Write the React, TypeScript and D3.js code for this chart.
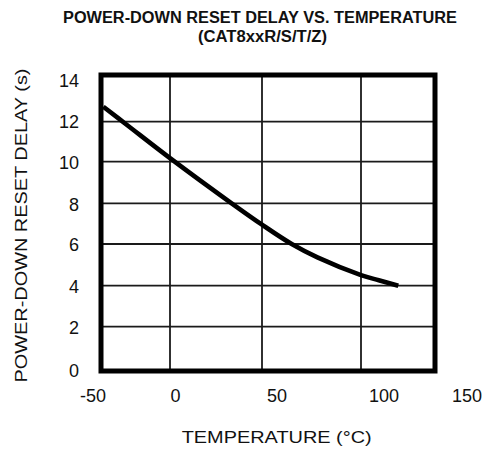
import React from "react";
import * as d3 from "d3";

// ---- data ----
const xTicks = [-50, 0, 50, 100, 150];
const yTicks = [0, 2, 4, 6, 8, 10, 12, 14];
const temps = [-48.3, -31.4, 0, 33.5, 50, 65, 78, 100, 112, 125.2];
const delays = [12.64, 11.85, 10.18, 8.0, 6.95, 6.0, 5.36, 4.51, 4.26, 4.0];
const titleLines = ["POWER-DOWN RESET DELAY VS. TEMPERATURE", "(CAT8xxR/S/T/Z)"];
const xTitle = "TEMPERATURE (°C)";
const yTitle = "POWER-DOWN RESET DELAY (s)";

// ---- scales (the scanned grid is not evenly spaced, so piecewise) ----
const x = d3.scaleLinear().domain(xTicks).range([101, 170, 262, 361, 435]);
const xLabel = d3.scaleLinear().domain(xTicks).range([93, 175.5, 277, 384, 467]);
const y = d3.scaleLinear().domain(yTicks).range([371, 326.7, 285.7, 244, 203.3, 161.7, 121.7, 75]);
const yLabel = d3.scaleLinear().domain(yTicks).range([371, 328, 286.7, 245, 205, 163.3, 121.7, 81]);

const pts: [number, number][] = temps.map((t, i) => [x(t), y(delays[i])]);
const lineGen = d3.line().curve(d3.curveCatmullRom.alpha(0.5));

export default function App() {
  const left = x(-50), right = x(150), top = y(14), bottom = y(0);
  return (
    <svg width={484} height={452} style={{ position: "absolute", left: 0, top: 0, background: "#fff" }}>
      <rect x={0} y={0} width={484} height={452} fill="#fff" />
      {/* title */}
      <g fontFamily="'Liberation Sans Narrow', 'Arial Narrow', 'Liberation Sans', Arial, sans-serif" fontWeight="bold" fontSize={16} fill="#111" textAnchor="middle">
        <text x={260} y={23.3} textLength={394} lengthAdjust="spacingAndGlyphs">{titleLines[0]}</text>
        <text x={262.5} y={41.5} textLength={129} lengthAdjust="spacingAndGlyphs">{titleLines[1]}</text>
      </g>
      {/* grid */}
      <g stroke="#1a1a1a" strokeWidth={1.8}>
        {xTicks.slice(1, -1).map((t) => (
          <line key={"vx" + t} x1={x(t)} x2={x(t)} y1={top} y2={bottom} />
        ))}
        {yTicks.slice(1, -1).map((t) => (
          <line key={"hy" + t} x1={left} x2={right} y1={y(t)} y2={y(t)} />
        ))}
      </g>
      {/* curve */}
      <path d={lineGen(pts) || ""} fill="none" stroke="#000" strokeWidth={4.6} strokeLinecap="butt" strokeLinejoin="round" />
      {/* frame */}
      <rect x={left} y={top} width={right - left} height={bottom - top} fill="none" stroke="#000" strokeWidth={5} />
      {/* tick labels */}
      <g fontFamily="'Liberation Sans', Arial, sans-serif" fontSize={18} fill="#111">
        {xTicks.map((t) => (
          <text key={"xl" + t} x={xLabel(t)} y={402} textAnchor="middle">{t}</text>
        ))}
        {yTicks.map((t) => (
          <text key={"yl" + t} x={79} y={yLabel(t)} textAnchor="end" dominantBaseline="central">{t}</text>
        ))}
      </g>
      {/* axis titles */}
      <g fontFamily="'Liberation Sans', Arial, sans-serif" fontSize={17} fill="#111" textAnchor="middle">
        <text x={276.7} y={443.3} textLength={190} lengthAdjust="spacingAndGlyphs">{xTitle}</text>
        <text transform={`translate(26.5,225.5) rotate(-90)`} textLength={314} lengthAdjust="spacingAndGlyphs">{yTitle}</text>
      </g>
    </svg>
  );
}
